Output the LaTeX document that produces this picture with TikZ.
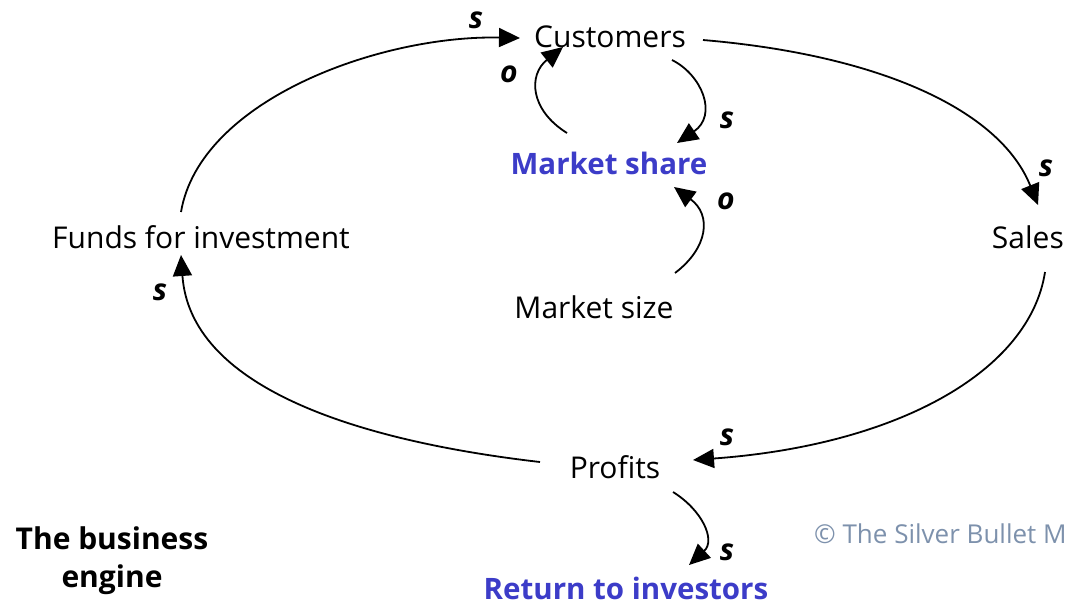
\documentclass[tikz,border=0pt]{standalone}
\usepackage{fontspec}
\setmainfont{Open Sans}
\usetikzlibrary{arrows.meta,calc}
\definecolor{varblue}{RGB}{60,60,200}
\definecolor{copygray}{RGB}{125,145,172}
\begin{document}
\begin{tikzpicture}[x=1pt,y=-1pt,
  var/.style={inner sep=0pt,font=\fontsize{30}{34}\selectfont},
  keyvar/.style={inner sep=0pt,font=\fontsize{29.5}{34}\selectfont\bfseries,text=varblue},
  sign/.style={inner sep=0pt,font=\fontsize{30}{34}\selectfont\itshape\bfseries},
  link/.style={line width=1.8pt,-{Triangle[length=21pt,width=19pt]}}]
\useasboundingbox (0,0) rectangle (1067,606);
\clip (0,0) rectangle (1067,606);
% variables
\node[var] (cust) at (610,37) {Customers};
\node[keyvar] (share) at (609,163) {Market share};
\node[var] (size) at (594,307) {Market size};
\node[var,anchor=east] (sales) at (1064,237) {Sales};
\node[var] (funds) at (201,237) {Funds for investment};
\node[var] (prof) at (615,467) {Profits};
\node[keyvar] (ret) at (626,588) {Return to investors};
\node[inner sep=0pt,font=\fontsize{30}{38}\selectfont\bfseries,align=center] (title) at (112,561) {The business\\engine};
\node[inner sep=0pt,anchor=west,text=copygray,font=\fontsize{26}{30}\selectfont] (copy) at (814,534) {© The Silver Bullet Machine};
% anchor points
\coordinate (c1) at (703,40);
\coordinate (c2) at (1038,205);
\coordinate (c3) at (1045,272);
\coordinate (c4) at (693,460);
\coordinate (c5) at (540,462);
\coordinate (c6) at (181,255);
\coordinate (c7) at (181,212);
\coordinate (c8) at (520,38);
\coordinate (c9) at (672,60);
\coordinate (c10) at (677,143);
\coordinate (c11) at (567,133);
\coordinate (c12) at (563,47);
\coordinate (c13) at (675,273);
\coordinate (c14) at (674,187);
\coordinate (c15) at (673,492);
\coordinate (c16) at (689,565);
% main loop
\draw[link] (c1) .. controls (880,55) and (1000,110) .. (c2);
\draw[link] (c3) .. controls (1030,370) and (900,445) .. (c4);
\draw[link] (c5) .. controls (350,440) and (190,385) .. (c6);
\draw[link] (c7) .. controls (200,100) and (380,35) .. (c8);
% inner links
\draw[link] (c9) .. controls (702,75) and (718,115) .. (c10);
\draw[link] (c11) .. controls (530,110) and (528,75) .. (c12);
\draw[link] (c13) .. controls (708,248) and (712,215) .. (c14);
\draw[link] (c15) .. controls (702,510) and (716,540) .. (c16);
% signs
\node[sign] (s1) at (476,20) {s};
\node[sign] (s2) at (509,74) {o};
\node[sign] (s3) at (727,120) {s};
\node[sign] (s4) at (726,201) {o};
\node[sign] (s5) at (1046,168) {s};
\node[sign] (s6) at (160,292) {s};
\node[sign] (s7) at (727,437) {s};
\node[sign] (s8) at (727,552) {s};
\end{tikzpicture}
\end{document}
